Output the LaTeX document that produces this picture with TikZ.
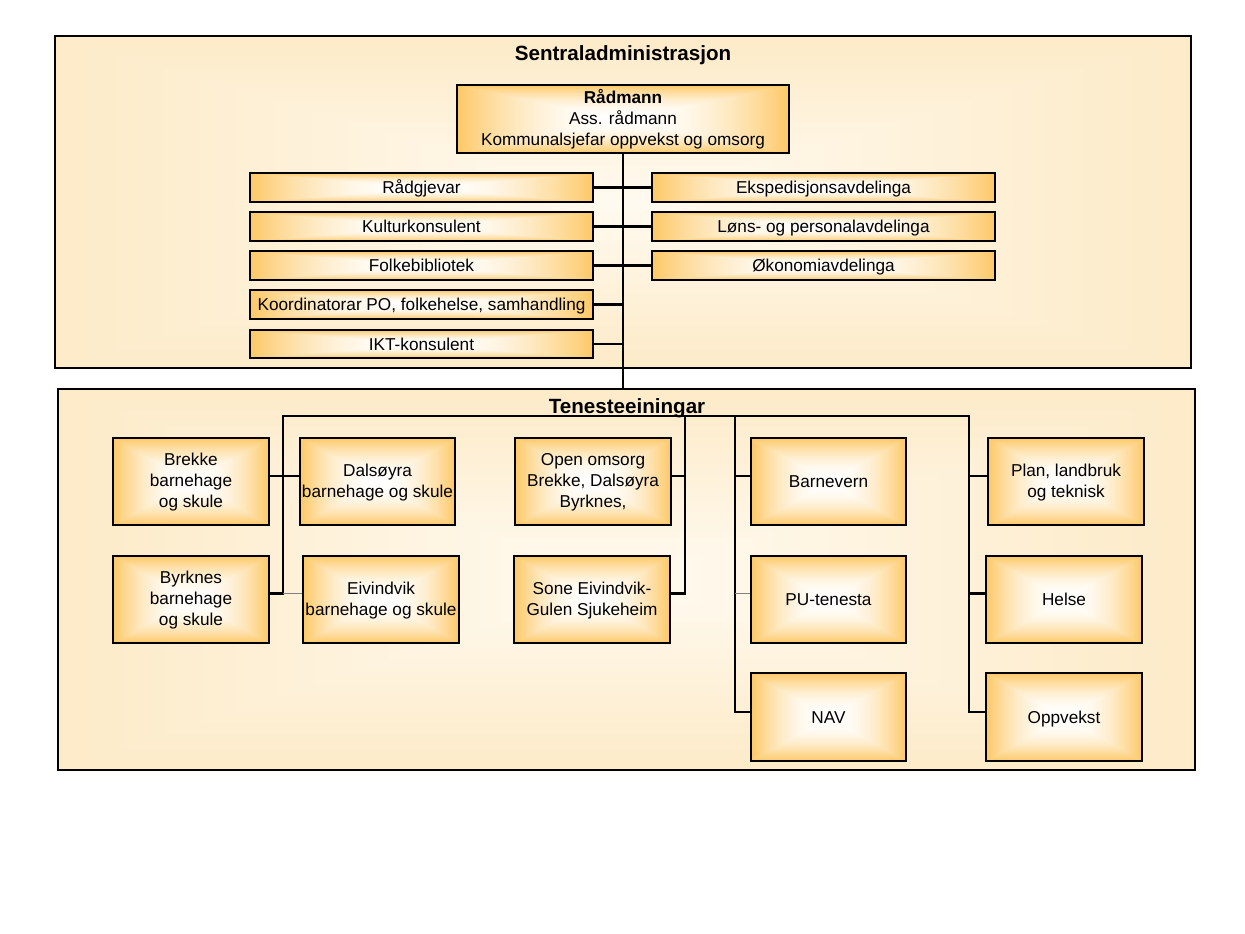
\documentclass[tikz,border=0pt]{standalone}
\usepackage{fontspec}
\setmainfont{Liberation Sans}
\usetikzlibrary{calc}
\pgfdeclarefunctionalshading{boxshade}{\pgfpoint{-50bp}{-50bp}}{\pgfpoint{50bp}{50bp}}{}{abs exch abs 2 copy sub abs add add 2 div 25 div dup 1 sub abs neg add 1 add 2 div dup mul dup 0.008 mul 1 exch sub exch dup 0.216 mul 1 exch sub exch 0.6 mul 1 exch sub}
\pgfdeclarefunctionalshading{bgshade}{\pgfpoint{-50bp}{-50bp}}{\pgfpoint{50bp}{50bp}}{}{abs exch abs 2 copy sub abs add add 2 div 25 div dup 1 sub abs neg add 1 add 2 div dup 0.008 mul 1 exch sub exch dup 0.06 mul 0.98 exch sub exch 0.155 mul 0.94 exch sub}
\newcommand\obox[7][]{\node[boxst,minimum width={#5-#3},minimum height={#6-#4},label={[textst]center:{#7}},#1] (#2) at ({(#3+#5)/2},{(#4+#6)/2}) {};}
\tikzset{
  boxst/.style={draw=black, line width=1.4pt, shade, shading=boxshade, inner sep=0pt},
  textst/.style={align=center, inner sep=0pt, yshift=-2pt, font=\fontsize{17.2}{21}\selectfont, text=black,
    execute at begin node=\strut, execute at end node=\strut},
  secst/.style={shading=bgshade, line width=1.2pt},
  titlest/.style={font=\fontsize{20.6}{24}\selectfont\bfseries, anchor=base, inner sep=0pt},
  conn/.style={line width=2.5pt, black},
  trunk/.style={line width=1.6pt, black},
  thinc/.style={line width=1.8pt, black!50},
}
\begin{document}
\begin{tikzpicture}[x=1pt,y=-1pt]
\useasboundingbox[fill=white] (0,0) rectangle (1245,934);
% sections
\obox[secst]{sec1}{55}{36}{1191}{368}{}
\obox[secst]{sec2}{58}{389}{1195}{770}{}
\node[titlest] (t1) at (623,61) {Sentraladministrasjon};
% top boxes
\obox{rad}{457}{85}{789}{153}{\textbf{Rådmann}\\Ass. rådmann\\Kommunalsjefar oppvekst og omsorg}
\obox{r1}{250}{173}{593}{202}{Rådgjevar}
\obox{r2}{250}{212}{593}{241}{Kulturkonsulent}
\obox{r3}{250}{251}{593}{280}{Folkebibliotek}
\obox{r4}{250}{290}{593}{319}{Koordinatorar PO, folkehelse, samhandling}
\obox{r5}{250}{330}{593}{358}{IKT-konsulent}
\obox{e1}{652}{173}{995}{202}{Ekspedisjonsavdelinga}
\obox{e2}{652}{212}{995}{241}{Løns- og personalavdelinga}
\obox{e3}{652}{251}{995}{280}{Økonomiavdelinga}
% top connectors
\draw[trunk] (rad.south) -- (rad.south |- sec2.north);
\draw[conn] (r1.east) -- (e1.west);
\draw[conn] (r2.east) -- (e2.west);
\draw[conn] (r3.east) -- (e3.west);
\draw[conn] (r4.east) -- (r4.east -| rad.south);
\draw[conn] (r5.east) -- (r5.east -| rad.south);
% bottom boxes
\obox{brekke}{113}{438}{269}{525}{Brekke\\barnehage\\og skule}
\obox{dals}{300}{438}{455}{525}{Dalsøyra\\barnehage og skule}
\obox{byrk}{113}{556}{269}{643}{Byrknes\\barnehage\\og skule}
\obox{eivind}{303}{556}{459}{643}{Eivindvik\\barnehage og skule}
\obox{open}{515}{438}{671}{525}{Open omsorg\\Brekke, Dalsøyra\\Byrknes,}
\obox{sone}{514}{556}{670}{643}{Sone Eivindvik-\\Gulen Sjukeheim}
\obox{barnevern}{751}{438}{906}{525}{Barnevern}
\obox{pu}{751}{556}{906}{643}{PU-tenesta}
\obox{nav}{751}{673}{906}{761}{NAV}
\obox{plan}{988}{438}{1144}{525}{Plan, landbruk\\og teknisk}
\obox{helse}{986}{556}{1142}{643}{Helse}
\obox{oppvekst}{986}{673}{1142}{761}{Oppvekst}
\node[titlest] (t2) at (627,413) {Tenesteeiningar};
% bus coordinates
\coordinate (v1) at (283,416);
\coordinate (v2) at (685,416);
\coordinate (v3) at (735,416);
\coordinate (v4) at (969,416);
\coordinate (cbrek) at ([yshift=5.5pt]brekke.east);
\coordinate (cbyr) at ([yshift=6pt]byrk.east);
\coordinate (copen) at ([yshift=5.5pt]open.east);
\coordinate (csone) at ([yshift=6pt]sone.east);
\coordinate (cbv) at ([yshift=5.5pt]barnevern.west);
\coordinate (cpu) at ([yshift=6pt]pu.west);
\coordinate (cnav) at ([yshift=5pt]nav.west);
\coordinate (cpl) at ([yshift=5.5pt]plan.west);
\coordinate (che) at ([yshift=6pt]helse.west);
\coordinate (cop) at ([yshift=5pt]oppvekst.west);
\draw[conn] (cbyr) -- (v1 |- cbyr) -- (v1) -- (v4) -- (v4 |- cop) -- (cop);
\draw[conn] (cbrek) -- (cbrek -| dals.west);
\draw[thinc] (v1 |- cbyr) -- (cbyr -| eivind.west);
\draw[conn] (v2) -- (v2 |- csone) -- (csone);
\draw[conn] (copen) -- (copen -| v2);
\draw[conn] (v3) -- (v3 |- cnav) -- (cnav);
\draw[conn] (v3 |- cbv) -- (cbv);
\draw[thinc] (v3 |- cpu) -- (cpu);
\draw[conn] (v4 |- cpl) -- (cpl);
\draw[conn] (v4 |- che) -- (che);
\end{tikzpicture}
\end{document}
